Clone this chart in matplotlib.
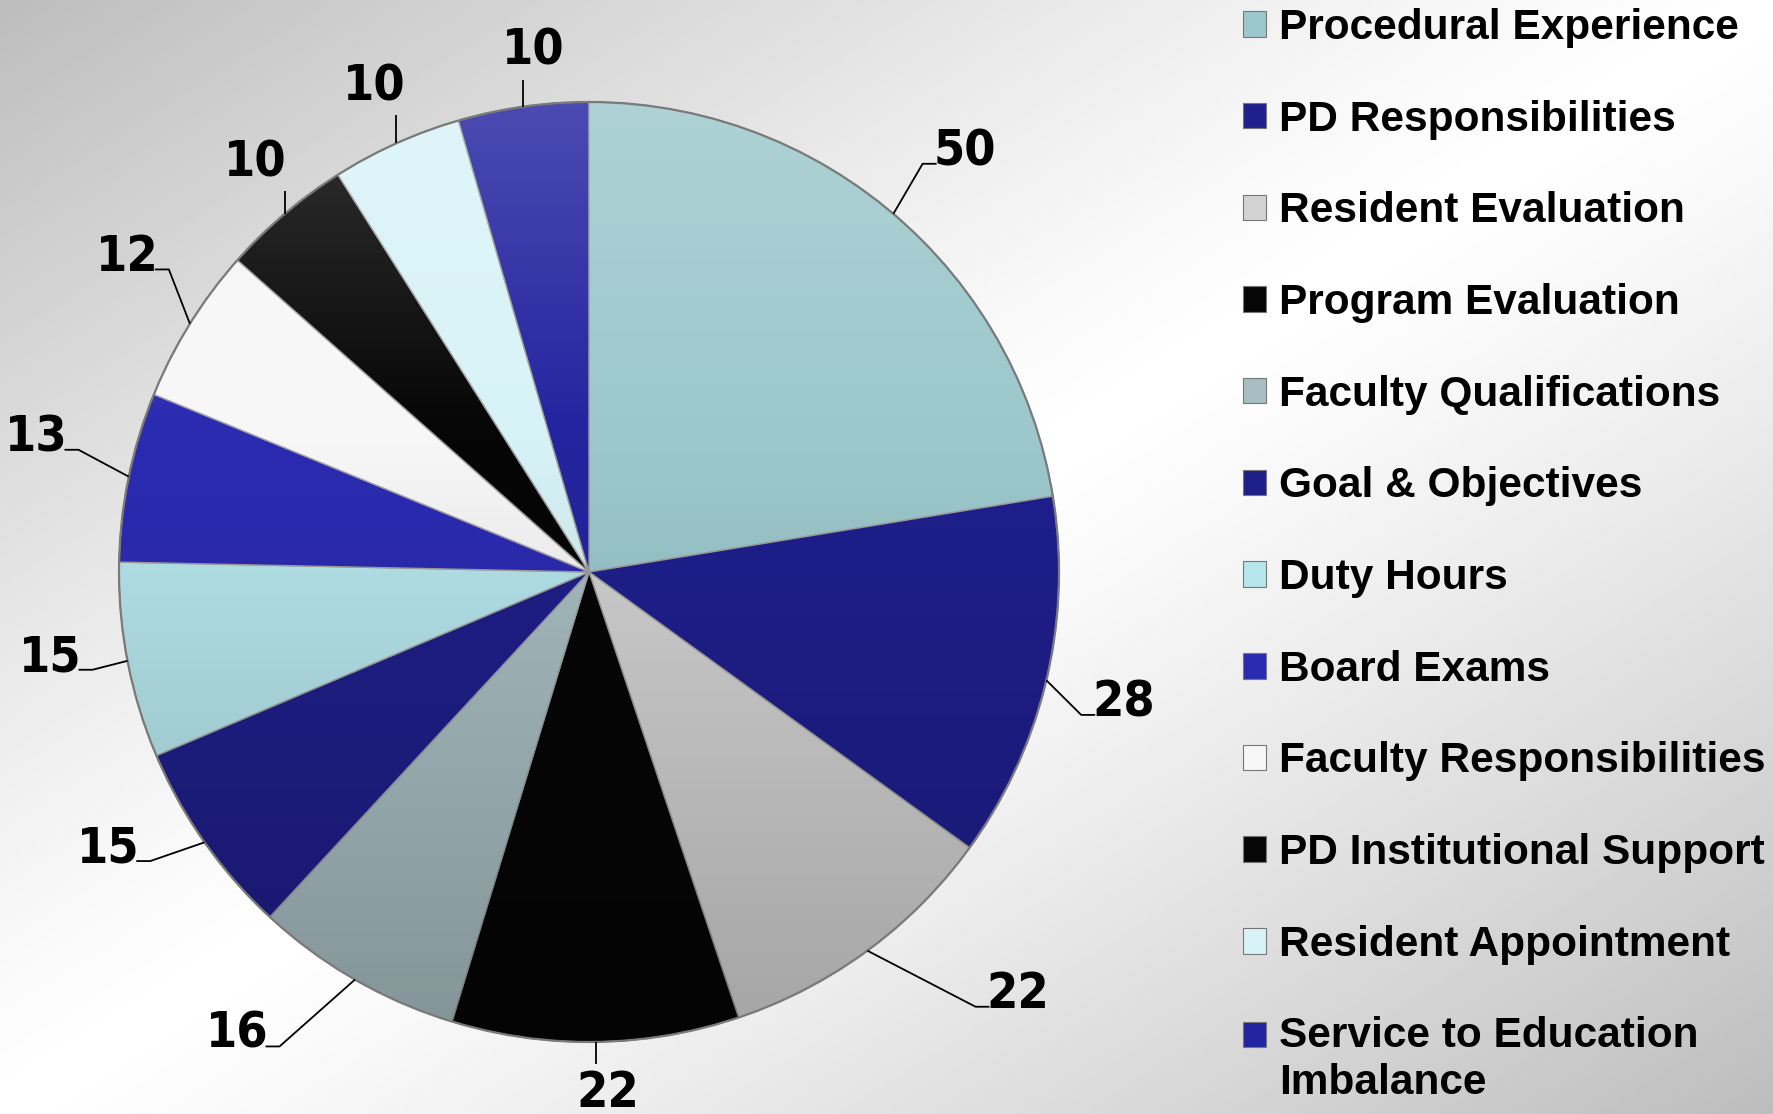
import numpy as np
import matplotlib
matplotlib.use("Agg")
import matplotlib.pyplot as plt
from matplotlib.patches import Circle

# ---------------- data ----------------
categories = ["Procedural Experience", "PD Responsibilities", "Resident Evaluation",
              "Program Evaluation", "Faculty Qualifications", "Goal & Objectives",
              "Duty Hours", "Board Exams", "Faculty Responsibilities",
              "PD Institutional Support", "Resident Appointment",
              "Service to Education\nImbalance"]
values = [50, 28, 22, 22, 16, 15, 15, 13, 12, 10, 10, 10]

# ---------------- style ----------------
colors = ["#9cc8cc", "#1f1f8e", "#d2d2d2", "#060606", "#a8bec2", "#1f1f8a",
          "#b6e6ec", "#2b2bb2", "#f7f7f7", "#060606", "#d8f3f7", "#2424a0"]
label_rf = [1.20, 1.17, 1.28, 1.11, 1.235, 1.18, 1.16, 1.21, 1.19, 1.125, 1.13, 1.115]
label_da = [-1.4, -0.4, 9.1, 1.2, -7.4, -5.2, -1.9, -2.0, -2.4, -1.2, -0.4, -2.0]

W, H = 1773, 1114
fig = plt.figure(figsize=(W / 100, H / 100), dpi=100)

# background diagonal gradient
bg = fig.add_axes([0, 0, 1, 1])
bg.axis("off")
yy, xx = np.mgrid[0:1:400j, 0:1:640j]
t = (xx + yy) / 2.0
v = 1 - 0.26 * np.abs(2 * t - 1) ** 1.2
bg.imshow(v, cmap="gray", vmin=0, vmax=1, extent=[0, 1, 0, 1], aspect="auto", origin="upper")

ax = fig.add_axes([0, 0, 1, 1], zorder=2)
cx, cy, R = 589, H - 572, 470

wedges, _ = ax.pie(values, colors=colors, startangle=90, counterclock=False,
                   center=(cx, cy), radius=R,
                   wedgeprops=dict(edgecolor="#a0a0a0", linewidth=1.0))

# shading overlay clipped to the pie
n = 256
g = np.linspace(0, 1, n)
ov = np.zeros((n, 1, 4))
top = g < 0.35
ov[top, 0, :3] = 1.0
ov[top, 0, 3] = 0.18 * (1 - g[top] / 0.35)
ov[~top, 0, :3] = 0.0
ov[~top, 0, 3] = 0.22 * (g[~top] - 0.35) / 0.65
im = ax.imshow(ov, extent=[cx - R, cx + R, cy - R, cy + R], origin="upper",
               zorder=3, aspect="auto", interpolation="bilinear")
im.set_clip_path(Circle((cx, cy), R, transform=ax.transData))
ax.add_patch(Circle((cx, cy), R, fill=False, edgecolor="#7a7a7a", lw=1.6, zorder=4))

# data labels with leader lines
num_font = dict(family=["DejaVu Sans"], stretch="condensed", weight="bold", size=36)
hw, hh = 25, 25
for w, val, rf, da in zip(wedges, values, label_rf, label_da):
    mid = np.deg2rad((w.theta1 + w.theta2) / 2)
    a = mid + np.deg2rad(da)
    tx, ty = cx + R * rf * np.cos(a), cy + R * rf * np.sin(a)
    ax.text(tx, ty, str(val), ha="center", va="center", zorder=5, **num_font)
    sx, sy = cx + R * np.cos(mid), cy + R * np.sin(mid)
    if tx - sx > hw + 10:
        ex, ey = tx - hw - 3, ty - 0.5 * hh
        xs, ys = [sx, ex - 14, ex], [sy, ey, ey]
    elif sx - tx > hw + 10:
        ex, ey = tx + hw + 3, ty - 0.5 * hh
        xs, ys = [sx, ex + 14, ex], [sy, ey, ey]
    else:
        if ty > cy:
            ey = ty - hh - 4
        else:
            ey = ty + hh + 4
        xs, ys = [sx, sx], [sy, ey]
    ax.plot(xs, ys, color="black", lw=1.3, zorder=5, solid_capstyle="butt")

leg_size = 30.5
leg = ax.legend(wedges, categories, loc="upper left", bbox_to_anchor=(1243 / W, 1 - 8 / H),
                frameon=False, prop=dict(family="Liberation Sans", weight="bold", size=leg_size),
                handlelength=0.55, handleheight=0.55, handletextpad=0.3,
                labelspacing=1.22, borderaxespad=0, borderpad=0)
for hdl in leg.legend_handles:
    hdl.set_edgecolor("#777777")
    hdl.set_linewidth(0.8)
# align the two-line entry's marker with its first line
last = leg.legend_handles[-1]
last.set_y(last.get_y() + 0.6 * leg_size)

ax.set_xlim(0, W)
ax.set_ylim(0, H)
ax.set_aspect("equal")
ax.axis("off")

fig.savefig("out.png", dpi=100)
